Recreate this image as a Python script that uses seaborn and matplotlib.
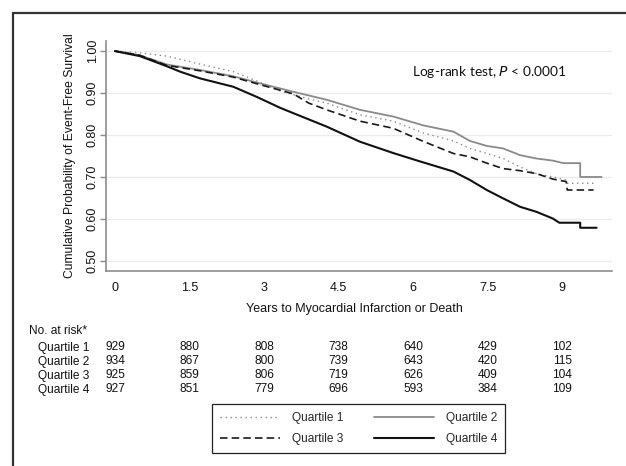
import matplotlib
matplotlib.use("Agg")
import matplotlib.pyplot as plt
import matplotlib.transforms as mtransforms
from matplotlib.patches import Rectangle
from matplotlib.lines import Line2D
import seaborn as sns
import pandas as pd

# ---------------- data ----------------
q1_t = [0, 0.5, 1.04, 1.71, 2.38, 2.85, 3.32, 3.9, 4.26, 4.93, 5.6, 6.2, 6.81, 7.14, 7.48, 7.81, 8.15, 8.48, 8.81, 9.08, 9.1, 9.63]
q1_s = [1.0, 0.996, 0.988, 0.969, 0.951, 0.929, 0.905, 0.886, 0.876, 0.848, 0.833, 0.805, 0.786, 0.768, 0.756, 0.744, 0.724, 0.708, 0.700, 0.693, 0.685, 0.685]

q2_t = [0, 0.5, 1.04, 1.71, 2.38, 2.92, 3.59, 4.26, 4.93, 5.6, 6.2, 6.81, 7.14, 7.48, 7.81, 8.15, 8.48, 8.81, 9.02, 9.36, 9.36, 9.79]
q2_s = [1.0, 0.990, 0.968, 0.955, 0.940, 0.923, 0.903, 0.884, 0.860, 0.844, 0.823, 0.808, 0.786, 0.774, 0.768, 0.752, 0.744, 0.739, 0.733, 0.733, 0.700, 0.700]

q3_t = [0, 0.5, 1.04, 1.71, 2.38, 2.92, 3.59, 3.9, 4.26, 4.93, 5.6, 6.2, 6.81, 7.14, 7.48, 7.81, 8.15, 8.48, 8.81, 9.08, 9.1, 9.63]
q3_s = [1.0, 0.990, 0.966, 0.953, 0.938, 0.920, 0.898, 0.876, 0.860, 0.833, 0.816, 0.785, 0.756, 0.748, 0.733, 0.720, 0.715, 0.708, 0.695, 0.689, 0.669, 0.669]

q4_t = [0, 0.5, 1.04, 1.31, 1.71, 2.38, 2.85, 3.32, 3.59, 4.26, 4.93, 5.6, 6.14, 6.81, 7.14, 7.48, 7.81, 8.15, 8.48, 8.81, 8.94, 9.36, 9.36, 9.69]
q4_s = [1.0, 0.988, 0.964, 0.951, 0.935, 0.915, 0.891, 0.865, 0.852, 0.820, 0.784, 0.757, 0.737, 0.713, 0.693, 0.669, 0.649, 0.629, 0.617, 0.601, 0.591, 0.591, 0.579, 0.579]

quartiles = ["Quartile 1", "Quartile 2", "Quartile 3", "Quartile 4"]
risk_times = [0, 1.5, 3, 4.5, 6, 7.5, 9]
risk_q1 = [929, 880, 808, 738, 640, 429, 102]
risk_q2 = [934, 867, 800, 739, 643, 420, 115]
risk_q3 = [925, 859, 806, 719, 626, 409, 104]
risk_q4 = [927, 851, 779, 696, 593, 384, 109]
x_ticks = [0, 1.5, 3, 4.5, 6, 7.5, 9]
x_tick_labels = ["0", "1.5", "3", "4.5", "6", "7.5", "9"]
y_ticks = [0.5, 0.6, 0.7, 0.8, 0.9, 1.0]
y_tick_labels = ["0.50", "0.60", "0.70", "0.80", "0.90", "1.00"]

# ---------------- style ----------------
sns.set_theme(style="white")
plt.rcParams["font.family"] = ["Liberation Sans", "DejaVu Sans"]
plt.rcParams["font.size"] = 8.75

W, H = 626, 466
fig = plt.figure(figsize=(W / 100, H / 100), dpi=100)
fig.patch.set_facecolor("white")

def fx(px):
    return px / W

def fy(py):
    return (H - py) / H

ax = fig.add_axes([fx(106), fy(271), fx(612) - fx(106), fy(41) - fy(271)])

series = [
    (q1_t, q1_s, dict(color="#8a8a8a", lw=1.0, ls=(0, (1, 2.6)))),
    (q2_t, q2_s, dict(color="#8a8a8a", lw=1.3, ls="-")),
    (q3_t, q3_s, dict(color="#1a1a1a", lw=1.2, ls=(0, (4.5, 2.5)))),
    (q4_t, q4_s, dict(color="#111111", lw=1.5, ls="-")),
]
handles = []
for name, (t, s, st) in zip(quartiles, series):
    df = pd.DataFrame({"t": t, "s": s})
    sns.lineplot(data=df, x="t", y="s", ax=ax, estimator=None, sort=False,
                 color=st["color"], linewidth=st["lw"], linestyle=st["ls"], zorder=3)
    handles.append(Line2D([], [], color=st["color"], lw=st["lw"], ls=st["ls"], label=name))

ax.set_xlim(-0.18, 10.0)
ax.set_ylim(0.476, 1.024)
ax.set_xticks(x_ticks)
ax.set_xticklabels(x_tick_labels)
ax.set_yticks(y_ticks)
ax.set_yticklabels(y_tick_labels, rotation=90, va="center")
for y in y_ticks:
    ax.axhline(y, color="#ececec", lw=1.0, zorder=1)

for side in ["top", "right"]:
    ax.spines[side].set_visible(False)
for side in ["left", "bottom"]:
    ax.spines[side].set_color("#8c8c8c")
    ax.spines[side].set_linewidth(1.2)
ax.tick_params(axis="both", which="major", direction="out", length=4, width=1.0,
               color="#8c8c8c", labelsize=9, labelcolor="#111111")
ax.tick_params(axis="x", pad=4)
ax.tick_params(axis="y", pad=1.2, left=True)

ax.set_xlabel("Years to Myocardial Infarction or Death", fontsize=9, color="#111111", va="center")
ax.xaxis.set_label_coords(0.49, (271 - 309) / 230)
ax.set_ylabel("Cumulative Probability of Event-Free Survival", fontsize=8.75, color="#111111", va="center")
ax.yaxis.set_label_coords((70 - 106) / 506, 0.5)

fig.text(fx(412), fy(72.5), "Log-rank test, $\\it{P}$ < 0.0001", fontsize=9.9,
         family=["Lato", "DejaVu Sans"], ha="left", va="center", color="#111111")

# at-risk table
trans = mtransforms.blended_transform_factory(ax.transData, fig.transFigure)
fig.text(fx(29), fy(331), "No. at risk*", fontsize=8.6, ha="left", va="center", color="#111111")
row_y = [347.5, 361.5, 375.5, 389.5]
for name, vals, ry in zip(quartiles, [risk_q1, risk_q2, risk_q3, risk_q4], row_y):
    fig.text(fx(38), fy(ry), name, fontsize=8.6, ha="left", va="center", color="#111111")
    for t, v in zip(risk_times, vals):
        fig.text(t, fy(ry), str(v), fontsize=8.6, ha="center", va="center",
                 color="#111111", transform=trans)

# legend: row 1 = Q1, Q2 ; row 2 = Q3, Q4 (matplotlib fills columns first)
leg_handles = [handles[0], handles[2], handles[1], handles[3]]
leg = fig.legend(handles=leg_handles, loc="center", bbox_to_anchor=(fx(358.5), fy(428.5)),
                 ncol=2, fontsize=8.6, frameon=True, fancybox=False, handlelength=5.0,
                 handletextpad=1.0, columnspacing=2.6, labelspacing=0.75,
                 borderpad=0.65, borderaxespad=0)
leg.get_frame().set_edgecolor("#222222")
leg.get_frame().set_linewidth(0.9)
leg.get_frame().set_alpha(1)

# outer frame
fig.patches.append(Rectangle((fx(13), -0.2), 1.5, fy(13) + 0.2, transform=fig.transFigure,
                             fill=False, edgecolor="#333333", linewidth=1.6, zorder=0))

fig.savefig("out.png", dpi=100, facecolor="white")
